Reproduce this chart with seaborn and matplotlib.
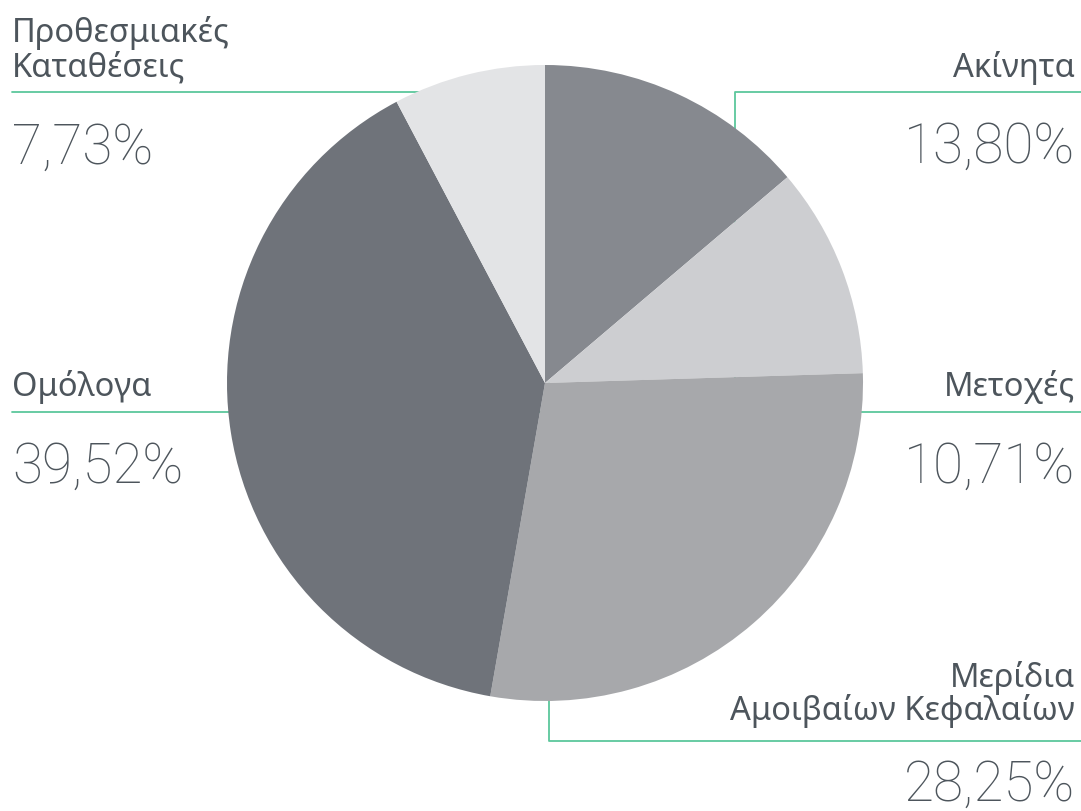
import seaborn as sns
import matplotlib.pyplot as plt

# data
labels = ['Ακίνητα', 'Μετοχές', 'Μερίδια\nΑμοιβαίων Κεφαλαίων', 'Ομόλογα',
          'Προθεσμιακές\nΚαταθέσεις']
shares = [13.80, 10.71, 28.25, 39.52, 7.73]
colors = ['#86898f', '#cdced1', '#a7a8ab', '#6f737a', '#e3e4e6']

W, H = 1081, 812
TEXT = '#4d555c'
GREEN = '#5cc79c'

sns.set_theme(style='white')
plt.rcParams['font.family'] = ['Noto Sans', 'DejaVu Sans']


def py(y):
  # pixel row -> data y
  return H - y


def pct(v):
  return '{:.2f}%'.format(v).replace('.', ',')


fig = plt.figure(figsize=(W / 100, H / 100), dpi=100)
ax = fig.add_axes([0, 0, 1, 1])

cx, cy, r = 545, 384, 318
ax.pie(shares, colors=colors, startangle=90, counterclock=False,
       center=(cx, py(cy)), radius=r, frame=True,
       wedgeprops=dict(linewidth=0, zorder=2))
ax.set_xlim(0, W)
ax.set_ylim(0, H)
ax.axis('off')

# leader lines (drawn under the pie)
lw = 1.3
ax.plot([12, cx], [py(93), py(93)], color=GREEN, lw=lw, zorder=1)
ax.plot([12, cx], [py(413), py(413)], color=GREEN, lw=lw, zorder=1)
ax.plot([cx, W], [py(413), py(413)], color=GREEN, lw=lw, zorder=1)
ax.plot([735, 735, W], [py(cy), py(93), py(93)], color=GREEN, lw=lw, zorder=1)
ax.plot([549, 549, W], [py(cy), py(742), py(742)], color=GREEN, lw=lw, zorder=1)

lab_fs = 23.5
num_fs = 39.5
R = 1075

# text: (x, ha, label baselines, number baseline)
spots = [
    (R, 'right', [77], 163),
    (R, 'right', [396], 483),
    (R, 'right', [687, 720], 801),
    (12, 'left', [396], 483),
    (12, 'left', [42, 77], 164),
]
for lab, v, (x, ha, bases, nb) in zip(labels, shares, spots):
  for line, b in zip(lab.split('\n'), bases):
    ax.text(x, py(b), line, ha=ha, va='baseline', fontsize=lab_fs,
            color=TEXT)
  ax.text(x, py(nb), pct(v), ha=ha, va='baseline', fontsize=num_fs,
          color=TEXT, family=['Roboto', 'DejaVu Sans'], fontweight='light')

plt.savefig('out.png', dpi=100)
